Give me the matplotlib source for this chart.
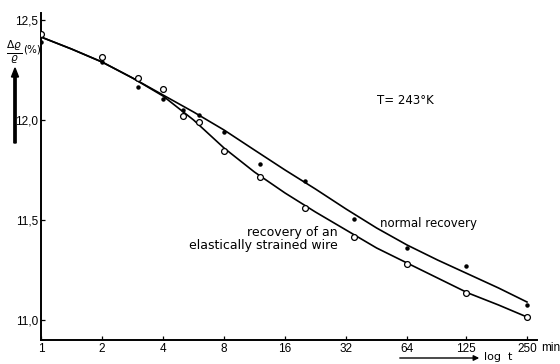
import numpy as np
import matplotlib
matplotlib.use("Agg")
import matplotlib.pyplot as plt

t_strained = [1, 2, 3, 4, 5, 6, 8, 12, 20, 35, 64, 125, 250]
v_strained = [12.43, 12.315, 12.21, 12.155, 12.02, 11.99, 11.845, 11.715, 11.56, 11.415, 11.28, 11.135, 11.015]

t_normal = [1, 2, 3, 4, 5, 6, 8, 12, 20, 35, 64, 125, 250]
v_normal = [12.39, 12.29, 12.165, 12.105, 12.05, 12.025, 11.94, 11.78, 11.695, 11.505, 11.36, 11.27, 11.075]

# ---- hand-drawn curves, values ----
t_curve = [1, 1.414, 2, 2.83, 4, 5.66, 8, 11.3, 16, 22.6, 32, 45.3, 64, 90.5, 128, 181, 250]
v_curve_normal = [12.415, 12.355, 12.29, 12.21, 12.125, 12.04, 11.95, 11.85, 11.75, 11.655,
                  11.555, 11.46, 11.375, 11.30, 11.23, 11.16, 11.09]
v_curve_strained = [12.415, 12.355, 12.29, 12.21, 12.12, 12.00, 11.86, 11.74, 11.635, 11.54,
                    11.45, 11.36, 11.285, 11.21, 11.135, 11.075, 11.015]

x_ticks = [1, 2, 4, 8, 16, 32, 64, 125, 250]
x_ticklabels = ["1", "2", "4", "8", "16", "32", "64", "125", "250"]
y_ticks = [11.0, 11.5, 12.0, 12.5]
y_ticklabels = ["11,0", "11,5", "12,0", "12,5"]

W, H = 560, 364
fig = plt.figure(figsize=(W / 100, H / 100), dpi=100)
ax = fig.add_axes([41 / W, 1 - 340 / H, (537 - 41) / W, (340 - 13) / H])

ax.set_xscale("log", base=2)
ax.set_xlim(1, 2 ** 8.13)
ax.set_ylim(10.9, 12.535)

ax.plot(t_curve, v_curve_normal, color="black", lw=1.2, solid_joinstyle="round")
ax.plot(t_curve, v_curve_strained, color="black", lw=1.2, solid_joinstyle="round")

ax.plot(t_strained, v_strained, "o", ms=4.2, mfc="white", mec="black", mew=0.9, ls="none", zorder=3)
ax.plot(t_normal, v_normal, "o", ms=2.2, color="black", ls="none", zorder=3)

for s in ["top", "right"]:
    ax.spines[s].set_visible(False)
for s in ["left", "bottom"]:
    ax.spines[s].set_linewidth(1.4)

ax.set_xticks(x_ticks)
ax.set_xticklabels(x_ticklabels)
ax.xaxis.set_minor_locator(matplotlib.ticker.NullLocator())
ax.set_yticks(y_ticks)
ax.set_yticklabels(y_ticklabels)
ax.tick_params(axis="both", direction="in", length=3, width=0.9, labelsize=8.5, pad=2)
for lab in ax.get_xticklabels() + ax.get_yticklabels():
    lab.set_fontfamily("Liberation Sans")

# extra labels
fig.text(541 / W, 1 - 348 / H, "min", fontsize=8.5, ha="left", va="center", family="Liberation Sans")
fig.text(377 / W, 1 - 100 / H, "T= 243°K", fontsize=8.5, ha="left", va="center")
fig.text(380 / W, 1 - 223 / H, "normal recovery", fontsize=8.5, ha="left", va="center")
fig.text(338 / W, 1 - 239 / H, "recovery of an\nelastically strained wire", fontsize=9,
         ha="right", va="center", multialignment="right", linespacing=1.05)

# y label and arrow
fig.text(14 / W, 1 - 52 / H, r"$\frac{\Delta\varrho}{\varrho}$", fontsize=11, ha="center", va="center")
fig.text(23 / W, 1 - 49 / H, "(%)", fontsize=7.5, ha="left", va="center")
fig.patches.append(matplotlib.patches.FancyArrow(15 / W, 1 - 143 / H, 0, (143 - 68) / H,
                   width=1.5 / H, head_width=7 / W, head_length=9 / H,
                   length_includes_head=True, color="black", transform=fig.transFigure))

# log t arrow at bottom
ax.annotate("", xy=(482 / W, 1 - 358 / H), xytext=(397 / W, 1 - 358 / H),
            xycoords="figure fraction", textcoords="figure fraction",
            arrowprops=dict(arrowstyle="-|>", color="black", lw=1.0, mutation_scale=8))
fig.text(484 / W, 1 - 357 / H, "log  t", fontsize=8, ha="left", va="center")

fig.savefig("out.png", dpi=100)
